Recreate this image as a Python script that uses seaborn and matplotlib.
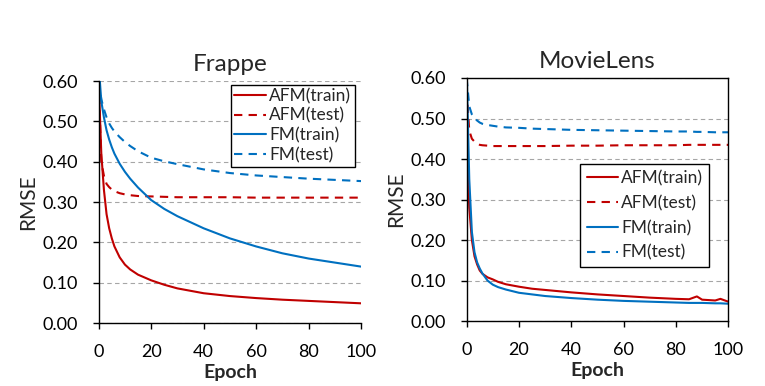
import matplotlib
matplotlib.use("Agg")
import matplotlib.pyplot as plt
import seaborn as sns
import pandas as pd

sns.set_theme(style="white")
plt.rcParams['font.family'] = ['Lato', 'DejaVu Sans']

# ---------------- Frappe ----------------
fr_epoch = [0, 1, 2, 3, 4, 5, 6, 8, 10, 12, 15, 20, 25, 30, 40, 50, 60, 70, 80, 90, 100]
fr_afm_train = [0.60, 0.42, 0.33, 0.27, 0.235, 0.21, 0.19, 0.163, 0.145, 0.133, 0.12, 0.106, 0.095, 0.086, 0.074, 0.067, 0.062, 0.058, 0.055, 0.052, 0.049]
fr_afm_test = [0.60, 0.40, 0.365, 0.345, 0.337, 0.331, 0.327, 0.322, 0.319, 0.317, 0.315, 0.314, 0.313, 0.312, 0.312, 0.312, 0.311, 0.311, 0.311, 0.311, 0.311]
fr_fm_train = [0.64, 0.55, 0.51, 0.478, 0.455, 0.436, 0.42, 0.395, 0.375, 0.358, 0.336, 0.305, 0.283, 0.265, 0.235, 0.21, 0.19, 0.173, 0.16, 0.15, 0.14]
fr_fm_test = [0.60, 0.555, 0.53, 0.51, 0.495, 0.484, 0.475, 0.461, 0.449, 0.439, 0.426, 0.41, 0.401, 0.394, 0.381, 0.372, 0.366, 0.362, 0.358, 0.355, 0.352]

# ---------------- MovieLens ----------------
ml_epoch = [0, 1, 2, 3, 4, 5, 6, 8, 10, 12, 15, 20, 25, 30, 40, 50, 60, 70, 80, 85, 88, 90, 95, 97, 100]
ml_afm_train = [0.44, 0.28, 0.20, 0.16, 0.14, 0.125, 0.117, 0.108, 0.103, 0.097, 0.091, 0.085, 0.080, 0.077, 0.071, 0.066, 0.062, 0.058, 0.055, 0.054, 0.061, 0.053, 0.051, 0.055, 0.048]
ml_afm_test = [0.57, 0.47, 0.45, 0.443, 0.438, 0.435, 0.434, 0.433, 0.432, 0.432, 0.432, 0.432, 0.432, 0.432, 0.433, 0.433, 0.434, 0.434, 0.434, 0.435, 0.435, 0.435, 0.435, 0.435, 0.435]
ml_fm_train = [0.62, 0.35, 0.22, 0.17, 0.145, 0.13, 0.118, 0.10, 0.09, 0.084, 0.078, 0.070, 0.066, 0.062, 0.057, 0.053, 0.050, 0.048, 0.046, 0.045, 0.045, 0.045, 0.044, 0.044, 0.043]
ml_fm_test = [0.60, 0.53, 0.51, 0.50, 0.495, 0.49, 0.487, 0.484, 0.482, 0.480, 0.478, 0.477, 0.475, 0.474, 0.472, 0.471, 0.470, 0.469, 0.468, 0.468, 0.467, 0.467, 0.466, 0.466, 0.466]

series_names = ["AFM(train)", "AFM(test)", "FM(train)", "FM(test)"]
x_ticks = [0, 20, 40, 60, 80, 100]
y_ticks = [0.0, 0.1, 0.2, 0.3, 0.4, 0.5, 0.6]
titles = ["Frappe", "MovieLens"]

RED = "#C00000"
BLUE = "#0070C0"
palette = {"AFM(train)": RED, "AFM(test)": RED, "FM(train)": BLUE, "FM(test)": BLUE}
dashes = {"AFM(train)": "", "AFM(test)": (4, 3), "FM(train)": "", "FM(test)": (4, 3)}


def make_df(epoch, lists):
    rows = []
    for name, vals in zip(series_names, lists):
        for e, v in zip(epoch, vals):
            rows.append({"Epoch": e, "RMSE": v, "series": name})
    return pd.DataFrame(rows)


df_fr = make_df(fr_epoch, [fr_afm_train, fr_afm_test, fr_fm_train, fr_fm_test])
df_ml = make_df(ml_epoch, [ml_afm_train, ml_afm_test, ml_fm_train, ml_fm_test])

fig = plt.figure(figsize=(7.65, 3.86), dpi=100)
ax1 = fig.add_axes([0.129, 0.163, 0.343, 0.627])
ax2 = fig.add_axes([0.610, 0.168, 0.342, 0.630])

for ax, df, title in [(ax1, df_fr, titles[0]), (ax2, df_ml, titles[1])]:
    sns.lineplot(data=df, x="Epoch", y="RMSE", hue="series", style="series",
                 palette=palette, dashes=dashes, hue_order=series_names,
                 style_order=series_names, linewidth=1.5, ax=ax)
    ax.set_xlim(0, 100)
    ax.set_ylim(0, 0.6)
    ax.set_xticks(x_ticks)
    ax.set_yticks(y_ticks)
    ax.set_yticklabels([f"{v:.2f}" for v in y_ticks])
    ax.yaxis.grid(True, linestyle=(0, (4, 3)), color="#A6A6A6", linewidth=0.8)
    ax.set_axisbelow(True)
    ax.tick_params(axis="both", direction="out", length=4, width=1, color="black",
                   labelsize=13, colors="black", left=True, bottom=True)
    ax.tick_params(axis="x", pad=11)
    ax.tick_params(axis="y", pad=11)
    ax.set_title(title, fontsize=17.5, pad=7)
    ax.set_xlabel("Epoch", fontsize=14, fontweight="bold", labelpad=3)
    ax.set_ylabel("RMSE", fontsize=15, labelpad=3)
    for s in ax.spines.values():
        s.set_color("black")
        s.set_linewidth(1.0)

ax1.spines["top"].set_visible(False)
ax1.spines["right"].set_visible(False)

leg1 = ax1.legend(loc="upper right", bbox_to_anchor=(0.975, 0.985), fontsize=12.5,
                  frameon=True, fancybox=False, edgecolor="black", framealpha=1,
                  borderpad=0.2, labelspacing=0.2, handlelength=1.8, handletextpad=0.2,
                  borderaxespad=0)
leg1.get_frame().set_linewidth(1.0)

leg2 = ax2.legend(loc="upper left", bbox_to_anchor=(0.435, 0.645), fontsize=12.5,
                  frameon=True, fancybox=False, edgecolor="black", framealpha=1,
                  borderpad=0.35, labelspacing=0.5, handlelength=1.8, handletextpad=0.2,
                  borderaxespad=0)
leg2.get_frame().set_linewidth(1.0)

fig.savefig("out.png", dpi=100)
